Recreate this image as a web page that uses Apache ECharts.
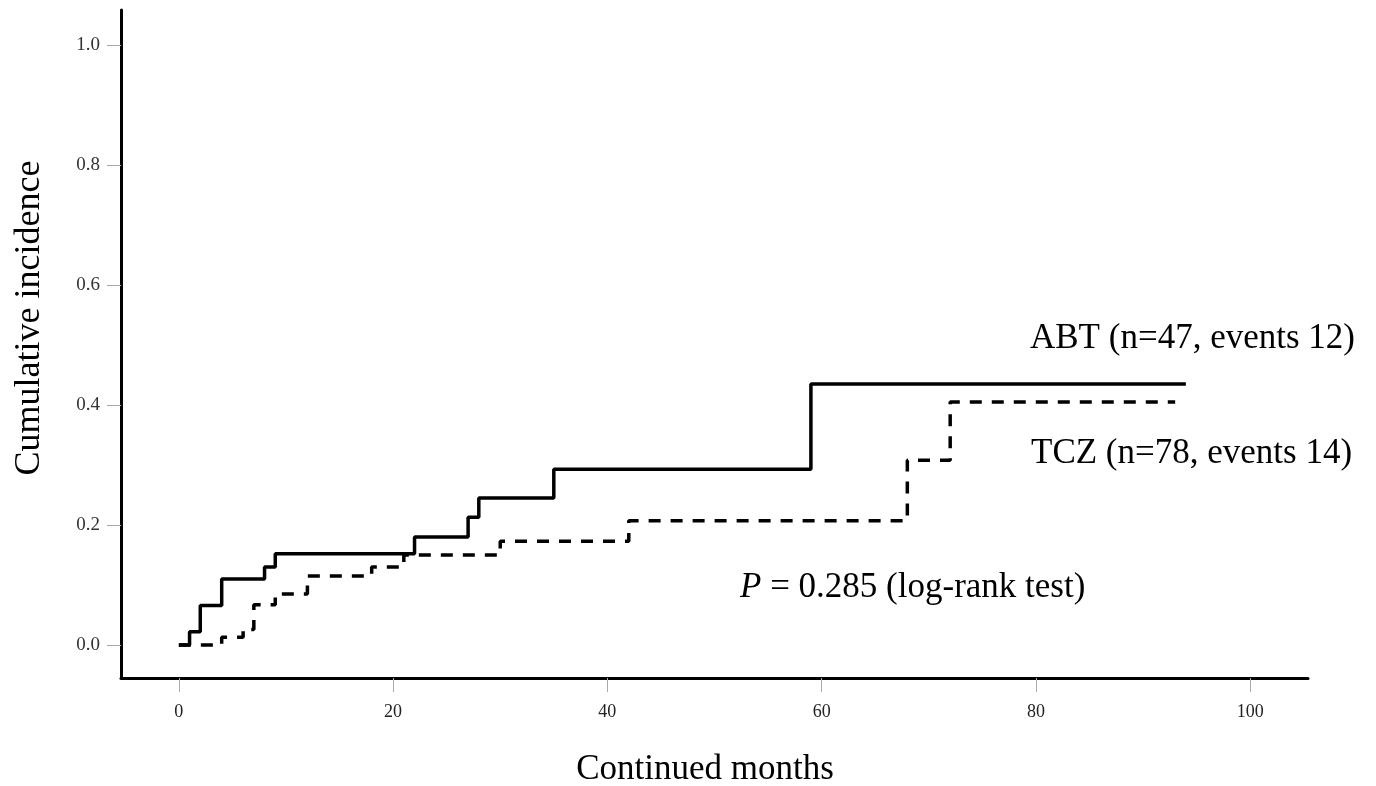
<!DOCTYPE html>
<html>
<head>
<meta charset="utf-8">
<title>Cumulative incidence</title>
<script src="https://cdn.jsdelivr.net/npm/echarts@6/dist/echarts.min.js"></script>
<style>
  html, body { margin: 0; padding: 0; background: #fff; }
  #chart { width: 1376px; height: 786px; }
</style>
</head>
<body>
<div id="chart"></div>
<script>
// months where the curve steps up, and the cumulative incidence after each step
const abtMonths = [0, 1, 2, 4, 8, 9, 22, 27, 28, 35, 59, 94]
const abtValues = [0, 0.022, 0.066, 0.11, 0.13, 0.152, 0.18, 0.213, 0.245, 0.293, 0.435, 0.435]
const tczMonths = [0, 4, 6, 7, 9, 12, 18, 21, 30, 42, 68, 72, 93]
const tczValues = [0, 0.013, 0.026, 0.067, 0.085, 0.115, 0.13, 0.15, 0.173, 0.207, 0.308, 0.405, 0.405]
const xTicks = [0, 20, 40, 60, 80, 100]
const yTicks = [0, 0.2, 0.4, 0.6, 0.8, 1.0]

const abtLabel = 'ABT (n=47, events 12)'
const tczLabel = 'TCZ (n=78, events 14)'

const serif = '"Liberation Serif", "DejaVu Serif", serif'

function pairs(xs, ys) {
  return xs.map((x, i) => [x, ys[i]])
}

const chart = echarts.init(document.getElementById('chart'))

const option = {
  animation: false,
  backgroundColor: '#fff',
  grid: { left: 121, right: 68, top: 10, bottom: 108 },
  xAxis: {
    type: 'value',
    min: -5.4,
    max: 105.4,
    splitLine: { show: false },
    axisLine: { onZero: false, lineStyle: { color: '#000', width: 3 } },
    axisTick: { customValues: xTicks, length: 14, lineStyle: { color: '#aaa', width: 1 } },
    axisLabel: {
      customValues: xTicks,
      margin: 25,
      fontSize: 18,
      fontFamily: serif,
      color: '#222'
    }
  },
  yAxis: {
    type: 'value',
    min: -0.055,
    max: 1.058,
    splitLine: { show: false },
    axisLine: { show: true, onZero: false, lineStyle: { color: '#000', width: 3 } },
    axisTick: { show: true, customValues: yTicks, length: 14, lineStyle: { color: '#aaa', width: 1 } },
    axisLabel: {
      customValues: yTicks,
      margin: 21,
      fontSize: 19,
      fontFamily: serif,
      color: '#333',
      formatter: v => v.toFixed(1)
    }
  },
  series: [
    {
      name: 'ABT',
      type: 'line',
      step: 'end',
      symbol: 'none',
      data: pairs(abtMonths, abtValues),
      lineStyle: { color: '#000', width: 3.5, type: 'solid' }
    },
    {
      name: 'TCZ',
      type: 'line',
      step: 'end',
      symbol: 'none',
      data: pairs(tczMonths, tczValues),
      lineStyle: { color: '#000', width: 3.5, type: [12, 10] }
    }
  ],
  graphic: [
    {
      type: 'text', left: 1030, top: 321,
      style: { text: abtLabel, font: '35px ' + serif, fill: '#000' }
    },
    {
      type: 'text', left: 1031, top: 436,
      style: { text: tczLabel, font: '35px ' + serif, fill: '#000' }
    },
    {
      type: 'text', left: 740, top: 570,
      style: {
        text: '{i|P} = 0.285 (log-rank test)',
        font: '35px ' + serif,
        fill: '#000',
        rich: { i: { fontStyle: 'italic', fontSize: 35, fontFamily: serif } }
      }
    },
    {
      type: 'text', x: 705, y: 770,
      style: {
        text: 'Continued months', font: '35px ' + serif, fill: '#000',
        align: 'center', verticalAlign: 'middle'
      }
    },
    {
      type: 'text', x: 30, y: 318, rotation: Math.PI / 2,
      style: {
        text: 'Cumulative incidence', font: '36px ' + serif, fill: '#000',
        align: 'center', verticalAlign: 'middle'
      }
    }
  ]
}

chart.setOption(option)
</script>
</body>
</html>
